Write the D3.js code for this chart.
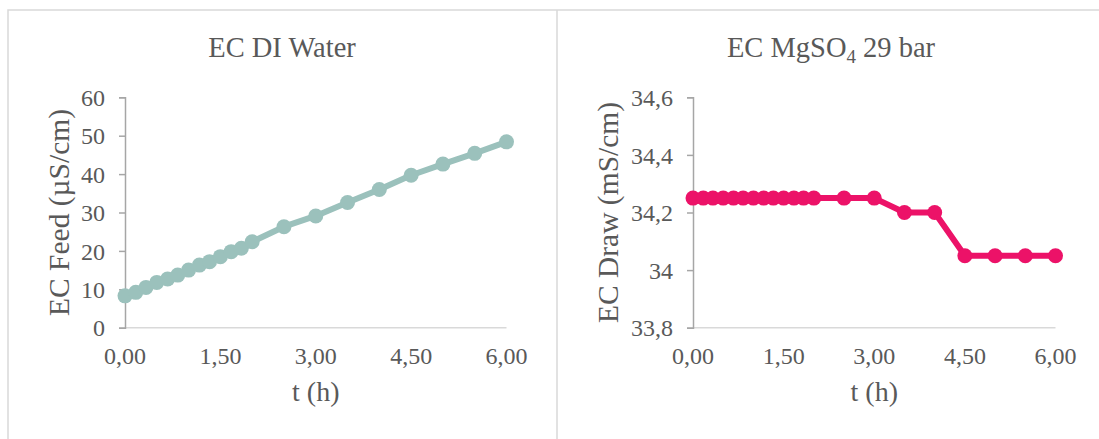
<!DOCTYPE html>
<html>
<head>
<meta charset="utf-8">
<script src="https://cdn.jsdelivr.net/npm/d3@7"></script>
<style>
  html, body { margin: 0; padding: 0; background: #fff; }
  svg { display: block; }
  text { font-family: 'Liberation Serif', 'Times New Roman', serif; fill: #595959; }
</style>
</head>
<body>
<div id="chart"></div>
<script>
// time (h) of each reading
const hours = [0, 0.17, 0.33, 0.5, 0.67, 0.83, 1, 1.17, 1.33, 1.5, 1.67, 1.83, 2,
  2.5, 3, 3.5, 4, 4.5, 5, 5.5, 6]

// EC of the feed (DI water), µS/cm
const ecFeed = [8.3, 9.2, 10.5, 11.8, 12.7, 13.7, 15.0, 16.3, 17.2, 18.5, 19.8, 20.7, 22.4,
  26.3, 29.1, 32.6, 36.0, 39.7, 42.6, 45.4, 48.4]

// EC of the draw (MgSO4 29 bar), mS/cm
const ecDraw = [34.25, 34.25, 34.25, 34.25, 34.25, 34.25, 34.25, 34.25, 34.25, 34.25, 34.25, 34.25, 34.25,
  34.25, 34.25, 34.2, 34.2, 34.05, 34.05, 34.05, 34.05]

const xTicks = [0, 1.5, 3, 4.5, 6]
const feedTicks = [0, 10, 20, 30, 40, 50, 60]
const drawTicks = [33.8, 34, 34.2, 34.4, 34.6]

const W = 1099
const H = 439

const svg = d3.select('#chart').append('svg')
  .attr('width', W)
  .attr('height', H)

svg.append('rect').attr('width', W).attr('height', H).attr('fill', '#fff')

// chart frames (cropped at right and bottom)
svg.append('path')
  .attr('d', `M8,${H} V10 H${W} M557,10 V${H}`)
  .attr('fill', 'none')
  .attr('stroke', '#d9d9d9')
  .attr('stroke-width', 1.5)

const comma = s => s.replace('.', ',')
const fmtX = v => comma(d3.format('.2f')(v))
const fmtY = v => comma(d3.format('~f')(+v.toFixed(2)))

function drawChart(opts) {
  const { left, right, top, bottom, cx, title, yLabel, yLabelX, yDomain, yTicks, values, color } = opts
  const g = svg.append('g')

  const x = d3.scaleLinear().domain([0, 6]).range([left, right])
  const y = d3.scaleLinear().domain(yDomain).range([bottom, top])

  // title
  const t = g.append('text')
    .attr('x', cx)
    .attr('y', 57)
    .attr('text-anchor', 'middle')
    .style('font-size', '28.5px')
  title(t)

  // x axis line (light) and labels
  g.append('line')
    .attr('x1', left).attr('x2', right)
    .attr('y1', bottom).attr('y2', bottom)
    .attr('stroke', '#d9d9d9')
    .attr('stroke-width', 1.5)

  g.selectAll('.xt')
    .data(xTicks)
    .join('text')
    .attr('class', 'xt')
    .attr('x', d => x(d))
    .attr('y', bottom + 36)
    .attr('text-anchor', 'middle')
    .style('font-size', '24px')
    .text(fmtX)

  // y axis
  const yAxis = g.append('g')
    .attr('transform', `translate(${left},0)`)
    .call(d3.axisLeft(y).tickValues(yTicks).tickSize(6).tickPadding(14).tickFormat(fmtY))
  yAxis.select('.domain').attr('stroke', '#a6a6a6').attr('stroke-width', 1.5)
  yAxis.selectAll('.tick line').attr('stroke', '#a6a6a6').attr('stroke-width', 1.5)
  yAxis.selectAll('.tick text')
    .attr('fill', '#595959')
    .style('font-family', "'Liberation Serif', 'Times New Roman', serif")
    .style('font-size', '24px')
    .attr('dy', '0.34em')

  // axis titles
  g.append('text')
    .attr('x', (left + right) / 2)
    .attr('y', bottom + 73)
    .attr('text-anchor', 'middle')
    .style('font-size', '28px')
    .text('t (h)')

  g.append('text')
    .attr('transform', `translate(${yLabelX},${(top + bottom) / 2}) rotate(-90)`)
    .attr('text-anchor', 'middle')
    .style('font-size', '29.5px')
    .text(yLabel)

  // series
  const pts = hours.map((h, i) => ({ h, v: values[i] }))

  g.append('path')
    .datum(pts)
    .attr('fill', 'none')
    .attr('stroke', color)
    .attr('stroke-width', 6)
    .attr('stroke-linejoin', 'round')
    .attr('d', d3.line().x(d => x(d.h)).y(d => y(d.v)))

  g.selectAll('.pt')
    .data(pts)
    .join('circle')
    .attr('class', 'pt')
    .attr('cx', d => x(d.h))
    .attr('cy', d => y(d.v))
    .attr('r', 7.5)
    .attr('fill', color)
}

drawChart({
  left: 125, right: 506.5, top: 97.3, bottom: 327.7, cx: 282,
  title: t => t.text('EC DI Water'),
  yLabel: 'EC Feed (µS/cm)', yLabelX: 69,
  yDomain: [0, 60], yTicks: feedTicks,
  values: ecFeed, color: '#9bc1bc'
})

drawChart({
  left: 693, right: 1055.5, top: 97.3, bottom: 327.7, cx: 831,
  title: t => {
    t.append('tspan').text('EC MgSO')
    t.append('tspan').attr('dy', 6).style('font-size', '19px').text('4')
    t.append('tspan').attr('dy', -6).text(' 29 bar')
  },
  yLabel: 'EC Draw (mS/cm)', yLabelX: 618,
  yDomain: [33.8, 34.6], yTicks: drawTicks,
  values: ecDraw, color: '#ec1268'
})
</script>
</body>
</html>
